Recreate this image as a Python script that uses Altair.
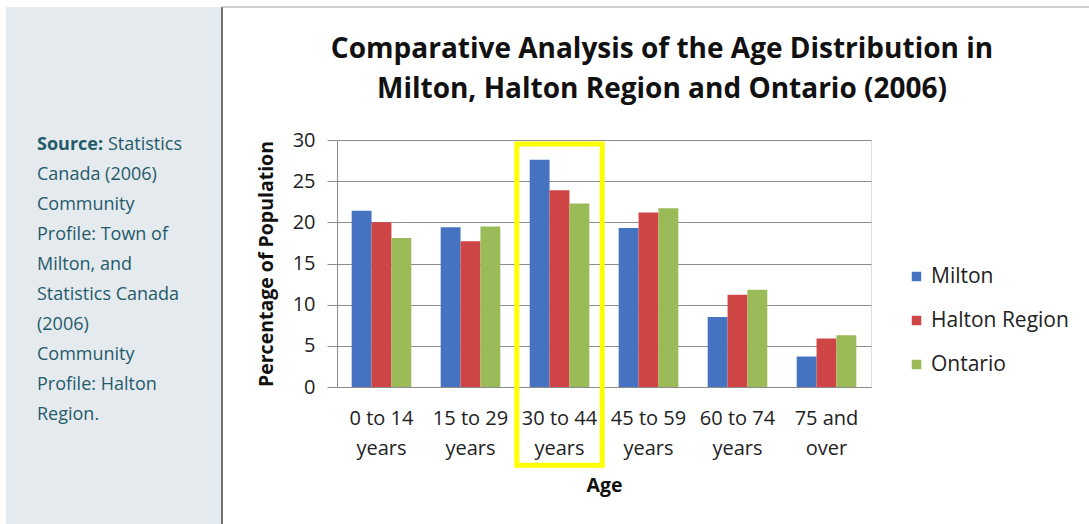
import altair as alt
import pandas as pd

# ---------------- data ----------------
ages = ["0 to 14 years", "15 to 29 years", "30 to 44 years",
        "45 to 59 years", "60 to 74 years", "75 and over"]
regions = ["Milton", "Halton Region", "Ontario"]
milton = [21.4, 19.4, 27.6, 19.3, 8.5, 3.7]
halton = [20.0, 17.7, 23.9, 21.2, 11.2, 5.9]
ontario = [18.1, 19.5, 22.3, 21.7, 11.8, 6.3]
colors = ["#4573c2", "#cf4545", "#9bbb59"]
y_ticks = [0, 5, 10, 15, 20, 25, 30]

title_lines = ["Comparative Analysis of the Age Distribution in",
               "Milton, Halton Region and Ontario (2006)"]
source_bold = "Source:"
source_first = "Statistics"
source_lines = ["Canada (2006)", "Community", "Profile: Town of", "Milton, and",
                "Statistics Canada", "(2006)", "Community", "Profile: Halton", "Region."]

highlight_age = "30 to 44 years"
highlight_span = [-9.5, 29.5]

FONT = "Open Sans"
W, H = 534, 247

rows = []
for i, a in enumerate(ages):
    for r, vals in zip(regions, [milton, halton, ontario]):
        rows.append({"Age": a, "Region": r, "Value": vals[i]})
df = pd.DataFrame(rows)

y_scale = alt.Scale(domain=[0, 30], nice=False)
y_title = "Percentage of Population"
y_axis = alt.Axis(values=y_ticks, grid=True, gridColor="#8c8c8c", domain=True,
                  domainColor="#8c8c8c", tickSize=10, tickColor="#8c8c8c",
                  labelFont=FONT, labelFontSize=20, labelColor="#222222",
                  labelPadding=12,
                  titleFont=FONT, titleFontSize=19.5, titleFontWeight="bold",
                  titleColor="#111111", titlePadding=16)

bars = alt.Chart(df).mark_bar().encode(
    x=alt.X("Age:N", sort=ages,
            scale=alt.Scale(domain=ages, paddingInner=0.33, paddingOuter=0.165),
            title="Age",
            axis=alt.Axis(labelAngle=0, ticks=False, domain=True, domainColor="#8c8c8c",
                          labelFont=FONT, labelFontSize=20, labelColor="#222222",
                          labelLineHeight=30, labelPadding=21,
                          labelExpr="datum.label == '75 and over' ? ['75 and', 'over'] : [replace(datum.label, ' years', ''), 'years']",
                          titleFont=FONT, titleFontSize=19.5, titleFontWeight="bold",
                          titleColor="#111111", titlePadding=18)),
    xOffset=alt.XOffset("Region:N", sort=regions,
                        scale=alt.Scale(domain=regions, paddingInner=0, paddingOuter=0)),
    y=alt.Y("Value:Q", scale=y_scale, title=y_title, axis=y_axis),
    color=alt.Color("Region:N", sort=regions,
                    scale=alt.Scale(domain=regions, range=colors),
                    legend=alt.Legend(title=None, orient="none", legendX=569, legendY=126,
                                      symbolType="square", symbolSize=90,
                                      symbolStrokeWidth=0,
                                      labelFont=FONT, labelFontSize=21, labelColor="#222222",
                                      rowPadding=22, labelOffset=4)),
)

hl_df = pd.DataFrame({"Age": [highlight_age], "lo": [highlight_span[0]], "hi": [highlight_span[1]]})
highlight = alt.Chart(hl_df).mark_rect(stroke="#ffff00", strokeWidth=5, fillOpacity=0).encode(
    x=alt.X("Age:N", scale=alt.Scale(domain=ages, paddingInner=0.04, paddingOuter=0.02), axis=None),
    y=alt.Y("lo:Q", scale=y_scale, title=y_title, axis=y_axis),
    y2="hi:Q",
)

one = pd.DataFrame({"k": [0]})
side_bg = alt.Chart(one).mark_rect(color="#e4eaed").encode(
    x=alt.value(-331), x2=alt.value(-116), y=alt.value(-133), y2=alt.value(384))
side_border = alt.Chart(one).mark_rule(color="#707070", strokeWidth=2).encode(
    x=alt.value(-115), y=alt.value(-133), y2=alt.value(384))
top_border = alt.Chart(one).mark_rule(color="#a0a0a0", strokeWidth=1).encode(
    x=alt.value(-116), x2=alt.value(752), y=alt.value(-133))

title = alt.Chart(one).mark_text(text=title_lines, font=FONT, fontSize=28, fontWeight="bold",
                                 lineHeight=40, color="#111111", align="center",
                                 baseline="middle").encode(
    x=alt.value(325), y=alt.value(-90))

txt_color = "#245b6b"
src_bold = alt.Chart(one).mark_text(text=source_bold, font=FONT, fontSize=18, fontWeight="bold",
                                    color=txt_color, align="left", baseline="middle").encode(
    x=alt.value(-300), y=alt.value(5))
src_first = alt.Chart(one).mark_text(text=source_first, font=FONT, fontSize=18,
                                     color=txt_color, align="left", baseline="middle").encode(
    x=alt.value(-229), y=alt.value(5))
src_rest = alt.Chart(one).mark_text(text=source_lines, font=FONT, fontSize=18, lineHeight=30,
                                    color=txt_color, align="left", baseline="middle").encode(
    x=alt.value(-300), y=alt.value(35))

chart = alt.layer(side_bg, side_border, top_border, bars, highlight, title,
                  src_bold, src_first, src_rest).resolve_scale(
    x="independent", xOffset="independent"
).properties(
    width=W, height=H,
    autosize=alt.AutoSizeParams(type="none"),
    padding={"left": 337, "top": 140, "right": 218, "bottom": 137},
).configure_view(strokeWidth=0).configure(background="white")

chart.save("out.html", embed_options={"renderer": "svg", "actions": False})
